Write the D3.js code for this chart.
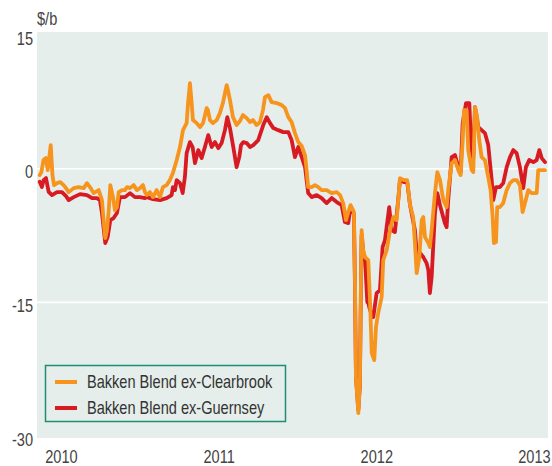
<!DOCTYPE html>
<html>
<head>
<meta charset="utf-8">
<script src="https://cdn.jsdelivr.net/npm/d3@7"></script>
<style>
  html, body { margin: 0; padding: 0; background: #fff; }
  svg { display: block; }
</style>
</head>
<body>
<svg id="chart" width="552" height="466"></svg>
<script>
// ---- Data (decimal year, $/b) ----
const seriesNames = ["Bakken Blend ex-Clearbrook", "Bakken Blend ex-Guernsey"];
const yTicks = [15, 0, -15, -30];
const xTicks = [2010, 2011, 2012, 2013];

const clearbrookT = [2009.865,2009.876,2009.889,2009.905,2009.916,2009.935,2009.946,2009.956,2009.975,2009.994,2010.017,2010.032,2010.049,2010.081,2010.112,2010.144,2010.165,2010.184,2010.207,2010.239,2010.260,2010.273,2010.281,2010.292,2010.303,2010.313,2010.330,2010.342,2010.355,2010.366,2010.387,2010.406,2010.419,2010.438,2010.461,2010.482,2010.501,2010.520,2010.533,2010.544,2010.564,2010.584,2010.607,2010.628,2010.647,2010.670,2010.691,2010.710,2010.734,2010.755,2010.774,2010.797,2010.806,2010.818,2010.829,2010.837,2010.861,2010.882,2010.901,2010.924,2010.932,2010.945,2010.964,2010.988,2011.008,2011.027,2011.051,2011.059,2011.072,2011.091,2011.114,2011.135,2011.154,2011.178,2011.199,2011.218,2011.241,2011.262,2011.281,2011.294,2011.315,2011.336,2011.368,2011.400,2011.421,2011.442,2011.463,2011.484,2011.505,2011.527,2011.548,2011.558,2011.568,2011.590,2011.611,2011.632,2011.653,2011.685,2011.717,2011.749,2011.770,2011.790,2011.808,2011.822,2011.837,2011.858,2011.865,2011.871,2011.886,2011.896,2011.903,2011.907,2011.917,2011.928,2011.949,2011.960,2011.971,2011.987,2011.998,2012.012,2012.034,2012.044,2012.066,2012.087,2012.108,2012.129,2012.139,2012.150,2012.175,2012.196,2012.214,2012.234,2012.245,2012.256,2012.273,2012.288,2012.298,2012.309,2012.330,2012.340,2012.351,2012.372,2012.387,2012.404,2012.425,2012.446,2012.456,2012.478,2012.499,2012.520,2012.535,2012.548,2012.556,2012.573,2012.583,2012.605,2012.615,2012.626,2012.640,2012.653,2012.668,2012.689,2012.710,2012.725,2012.738,2012.746,2012.759,2012.767,2012.784,2012.805,2012.827,2012.848,2012.869,2012.890,2012.911,2012.928,2012.943,2012.964,2012.985,2013.017,2013.027,2013.049,2013.070];
const clearbrookV = [-0.71,-0.37,0.98,1.20,-0.15,2.66,-0.71,-1.83,-1.61,-1.49,-1.83,-2.17,-2.62,-2.17,-2.05,-2.17,-1.61,-2.05,-2.73,-2.39,-3.51,-6.32,-7.78,-6.88,-4.64,-1.83,-3.18,-4.64,-4.30,-2.62,-2.39,-2.39,-2.05,-2.17,-1.83,-2.39,-2.17,-1.83,-2.62,-2.95,-2.62,-3.18,-2.39,-3.18,-2.05,-1.83,-1.27,-0.48,0.98,2.44,4.34,5.13,7.38,9.62,7.38,5.47,5.13,4.68,5.13,6.81,6.59,5.47,5.13,5.47,6.25,7.38,9.40,8.84,7.71,5.80,4.91,5.36,6.03,5.69,5.24,5.47,4.91,5.24,6.59,8.05,8.27,7.49,7.38,7.15,6.81,5.80,5.24,4.01,3.00,2.55,1.54,-0.15,-2.05,-2.05,-1.83,-2.05,-2.39,-2.39,-2.73,-2.62,-2.95,-3.85,-5.76,-4.86,-4.08,-4.86,-12.83,-23.39,-27.43,-24.06,-12.16,-6.88,-9.13,-9.91,-10.25,-14.74,-20.69,-21.48,-17.77,-16.20,-14.40,-10.25,-9.13,-6.88,-5.42,-5.76,-3.51,-1.04,-1.27,-1.27,-4.08,-5.42,-8.34,-11.71,-9.91,-5.76,-5.42,-7.67,-8.34,-8.79,-6.88,-2.73,-0.37,-1.27,-3.51,-4.30,-2.39,0.64,0.98,-0.15,-0.71,3.22,6.59,6.59,2.10,-0.15,-0.37,6.93,5.80,3.22,1.31,0.98,-0.93,-2.39,-5.42,-8.34,-8.23,-4.30,-4.30,-3.85,-2.39,-1.61,-1.27,-1.27,-1.83,-4.86,-3.85,-2.39,-2.73,-2.73,-0.15,-0.15,-0.15];

const guernseyT = [2009.865,2009.879,2009.890,2009.905,2009.922,2009.943,2009.975,2010.006,2010.032,2010.049,2010.081,2010.121,2010.165,2010.197,2010.228,2010.247,2010.260,2010.281,2010.296,2010.313,2010.334,2010.355,2010.374,2010.406,2010.438,2010.469,2010.501,2010.533,2010.544,2010.584,2010.628,2010.670,2010.702,2010.710,2010.723,2010.734,2010.755,2010.772,2010.786,2010.797,2010.818,2010.835,2010.850,2010.871,2010.892,2010.913,2010.934,2010.956,2010.977,2010.998,2011.019,2011.040,2011.055,2011.072,2011.093,2011.114,2011.131,2011.142,2011.156,2011.178,2011.199,2011.220,2011.251,2011.283,2011.305,2011.326,2011.347,2011.378,2011.410,2011.442,2011.463,2011.484,2011.505,2011.527,2011.548,2011.568,2011.590,2011.622,2011.653,2011.685,2011.717,2011.749,2011.780,2011.801,2011.822,2011.837,2011.858,2011.865,2011.871,2011.886,2011.896,2011.903,2011.907,2011.917,2011.928,2011.943,2011.949,2011.960,2011.981,2012.002,2012.023,2012.040,2012.055,2012.082,2012.097,2012.118,2012.139,2012.150,2012.175,2012.196,2012.214,2012.245,2012.260,2012.277,2012.298,2012.319,2012.330,2012.340,2012.351,2012.372,2012.387,2012.404,2012.435,2012.446,2012.456,2012.478,2012.499,2012.520,2012.535,2012.548,2012.569,2012.590,2012.605,2012.615,2012.626,2012.647,2012.668,2012.689,2012.710,2012.732,2012.742,2012.759,2012.784,2012.805,2012.827,2012.848,2012.869,2012.890,2012.911,2012.932,2012.949,2012.970,2012.996,2013.017,2013.034,2013.049,2013.070];
const guernseyV = [-1.46,-2.05,-1.27,-1.04,-2.58,-2.95,-2.62,-2.62,-3.07,-3.51,-3.18,-2.84,-2.95,-3.29,-3.29,-3.51,-4.97,-8.34,-7.67,-5.76,-5.53,-4.97,-3.18,-3.18,-2.73,-3.18,-3.18,-3.29,-3.18,-3.40,-3.51,-3.29,-2.95,-2.05,-2.39,-1.27,-1.61,-2.73,-0.93,1.76,3.00,2.44,0.64,2.10,1.20,2.44,3.78,2.44,3.00,2.32,2.89,4.34,5.80,4.57,2.44,0.19,1.31,2.66,3.00,2.89,2.44,2.66,3.22,4.91,5.80,5.13,4.57,4.34,4.12,4.12,3.22,1.31,2.44,1.31,0.19,-2.73,-3.18,-2.95,-3.29,-3.85,-3.29,-3.74,-4.08,-5.98,-6.10,-4.30,-5.09,-13.62,-23.39,-27.06,-24.28,-12.50,-7.43,-9.35,-10.03,-14.97,-15.08,-15.86,-16.65,-13.96,-13.62,-8.79,-8.00,-4.30,-6.88,-7.10,-3.51,-1.27,-1.49,-1.49,-4.08,-6.88,-10.25,-9.46,-9.91,-10.59,-11.38,-13.96,-12.16,-4.97,-2.73,-4.08,-6.10,-6.55,-3.51,1.31,1.54,0.19,-0.37,5.13,7.38,7.38,0.98,1.31,6.93,4.68,4.34,4.01,2.66,-1.27,-3.51,-2.05,-2.05,-1.61,0.19,1.31,2.10,1.76,0.19,-2.17,0.19,0.98,0.75,0.98,2.10,1.20,0.75];

const colors = ["#F7941E", "#D81B23"];

// ---- Layout ----
const svg = d3.select("#chart");
const plot = { left: 37, right: 548, top: 32, bottom: 438 };

const x = d3.scaleLinear()
  .domain([2009.848, 2013.089])
  .range([plot.left, plot.right]);
const y = d3.scaleLinear()
  .domain([-30, 15])
  .range([436, 35.2]);

const font = "'Liberation Sans', Arial, sans-serif";
const squeeze = 0.81; // condensed look

// narrow a text element horizontally around its own anchor x
function condense(sel) {
  sel.each(function () {
    const t = d3.select(this);
    const ax = +t.attr("x") || 0;
    t.attr("transform", `translate(${ax},0) scale(${squeeze},1) translate(${-ax},0)`);
  });
}

svg.append("rect")
  .attr("x", plot.left).attr("y", plot.top)
  .attr("width", plot.right - plot.left).attr("height", plot.bottom - plot.top)
  .attr("fill", "#E5EEEA");

// gridlines
svg.append("g").selectAll("line")
  .data(yTicks.filter(d => d > -30 && d < 15))
  .join("line")
  .attr("x1", plot.left).attr("x2", plot.right)
  .attr("y1", d => y(d)).attr("y2", d => y(d))
  .attr("stroke", "#fff").attr("stroke-width", 1.6);

// y axis labels
const yAxis = d3.axisLeft(y).tickValues(yTicks).tickSize(0).tickPadding(4).tickFormat(d => String(d));
const gy = svg.append("g").attr("transform", `translate(${plot.left},0)`).call(yAxis);
gy.select(".domain").remove();
gy.selectAll("text")
  .attr("font-family", font).attr("font-size", 18).attr("fill", "#444")
  .attr("dy", "0.5em")
  .call(condense);

// x axis labels
const xAxis = d3.axisBottom(x).tickValues(xTicks).tickSize(0).tickPadding(0).tickFormat(d => String(d));
const gx = svg.append("g").attr("transform", `translate(0,${plot.bottom})`).call(xAxis);
gx.select(".domain").remove();
gx.selectAll("text")
  .attr("font-family", font).attr("font-size", 18).attr("fill", "#444")
  .attr("y", 25).attr("dy", 0)
  .call(condense);

// unit label
svg.append("text")
  .attr("x", plot.left).attr("y", 25)
  .attr("font-family", font).attr("font-size", 18).attr("fill", "#444")
  .text("$/b")
  .call(condense);

// lines
const line = d3.line().x(d => x(d[0])).y(d => y(d[1]));
const seriesData = [
  d3.zip(clearbrookT, clearbrookV),
  d3.zip(guernseyT, guernseyV)
];
// draw Guernsey first, Clearbrook on top
[1, 0].forEach(i => {
  svg.append("path")
    .datum(seriesData[i])
    .attr("d", line)
    .attr("fill", "none")
    .attr("stroke", colors[i])
    .attr("stroke-width", 3.8)
    .attr("stroke-linejoin", "round")
    .attr("stroke-linecap", "round");
});

// legend
const lg = svg.append("g");
lg.append("rect")
  .attr("x", 45.5).attr("y", 365.5).attr("width", 240).attr("height", 56)
  .attr("fill", "#E5EEEA").attr("stroke", "#1F8E72").attr("stroke-width", 1.5);
seriesNames.forEach((name, i) => {
  const yy = 382 + i * 26;
  lg.append("line")
    .attr("x1", 55).attr("x2", 77).attr("y1", yy).attr("y2", yy)
    .attr("stroke", colors[i]).attr("stroke-width", 4);
  lg.append("text")
    .attr("x", 87).attr("y", yy + 6.5)
    .attr("font-family", font).attr("font-size", 18).attr("fill", "#333")
    .text(name)
    .call(condense);
});
</script>
</body>
</html>
